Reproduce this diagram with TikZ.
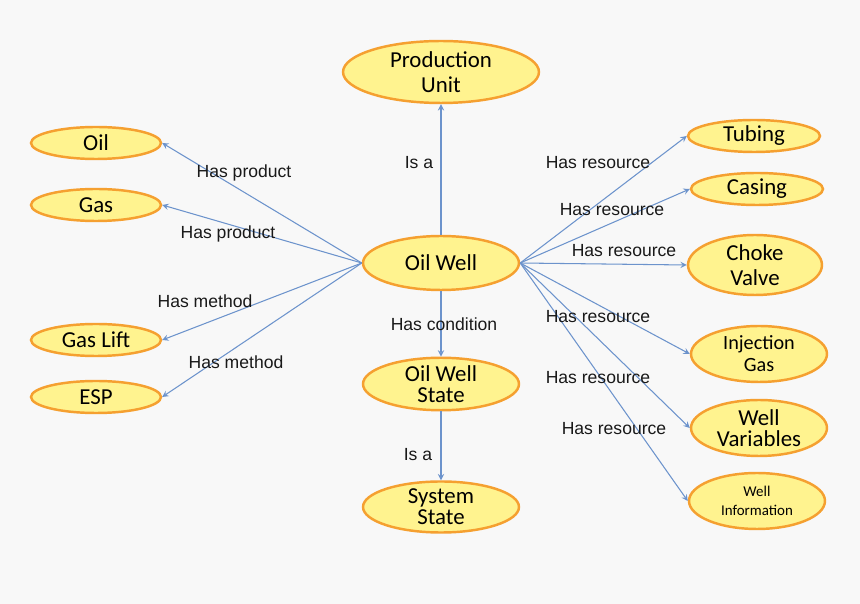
\documentclass[tikz,border=0pt]{standalone}
\usepackage{fontspec}
\setmainfont{Liberation Sans}
\newfontfamily\nodefont{Carlito}
\usetikzlibrary{shapes.geometric}
\definecolor{wellfill}{HTML}{FFF38F}
\definecolor{welldraw}{HTML}{F5A030}
\definecolor{linkcol}{HTML}{6C93CC}
\definecolor{bgcol}{HTML}{F8F8F8}

\begin{document}
\begin{tikzpicture}[x=0.02cm,y=-0.02cm,>=stealth,
  concept/.style={ellipse,draw=welldraw,fill=wellfill,line width=1.4pt,inner sep=0pt,
    align=center,font=\nodefont\fontsize{13}{14}\selectfont},
  link/.style={->,draw=linkcol,line width=0.6pt},
  rel/.style={font=\fontsize{10}{12}\selectfont,text=black!90}]

% Background
\fill[bgcol] (0,0) rectangle (860,604);
\useasboundingbox (0,0) rectangle (860,604);

% Centre column
\node[concept,minimum width=3.92cm,minimum height=1.24cm] (unit) at (441,72) {Production\\Unit};
\node[concept,minimum width=3.12cm,minimum height=1.08cm] (well) at (441,263) {Oil Well};
\node[concept,minimum width=3.12cm,minimum height=0.96cm] (state) at (441,384) {Oil Well\\[-2pt]State};
\node[concept,minimum width=3.12cm,minimum height=0.96cm] (sys) at (441,507) {System\\[-2pt]State};

% Left side
\node[concept,minimum width=2.6cm,minimum height=0.64cm] (oil) at (96,143) {Oil};
\node[concept,minimum width=2.6cm,minimum height=0.64cm] (gas) at (96,205) {Gas};
\node[concept,minimum width=2.6cm,minimum height=0.64cm] (lift) at (96,340) {Gas Lift};
\node[concept,minimum width=2.6cm,minimum height=0.64cm] (esp) at (96,397) {ESP};

% Right side
\node[concept,minimum width=2.64cm,minimum height=0.64cm] (tubing) at (754,136) {Tubing};
\node[concept,minimum width=2.64cm,minimum height=0.64cm] (casing) at (757,189) {Casing};
\node[concept,minimum width=2.68cm,minimum height=1.2cm] (choke) at (755,265) {Choke\\Valve};
\node[concept,minimum width=2.72cm,minimum height=1.12cm,font=\nodefont\fontsize{11.5}{12.5}\selectfont] (inj) at (759,354) {Injection\\Gas};
\node[concept,minimum width=2.72cm,minimum height=1.12cm] (vars) at (759,428) {Well\\[-2pt]Variables};
\node[concept,minimum width=2.72cm,minimum height=1.12cm,font=\nodefont\fontsize{8.5}{11}\selectfont] (info) at (757,501) {Well\\Information};

% Links
\draw[link] (well.north) -- (unit.south);
\draw[link] (well.south) -- (state.north);
\draw[link] (state.south) -- (sys.north);
\foreach \t in {oil,gas,lift,esp}
  \draw[link] (well.west) -- (\t.east);
\foreach \t in {tubing,casing,choke,inj,vars,info}
  \draw[link] (well.east) -- (\t.west);

% Labels
\node[rel] at (244,173) {Has product};
\node[rel] at (228,234) {Has product};
\node[rel] at (205,301) {Has method};
\node[rel] at (236,362) {Has method};
\node[rel] at (419,163) {Is a};
\node[rel] at (444,324) {Has condition};
\node[rel] at (418,455) {Is a};
\node[rel] at (598,163) {Has resource};
\node[rel] at (612,210) {Has resource};
\node[rel] at (624,251) {Has resource};
\node[rel] at (598,317) {Has resource};
\node[rel] at (598,378) {Has resource};
\node[rel] at (614,429) {Has resource};
\end{tikzpicture}
\end{document}
